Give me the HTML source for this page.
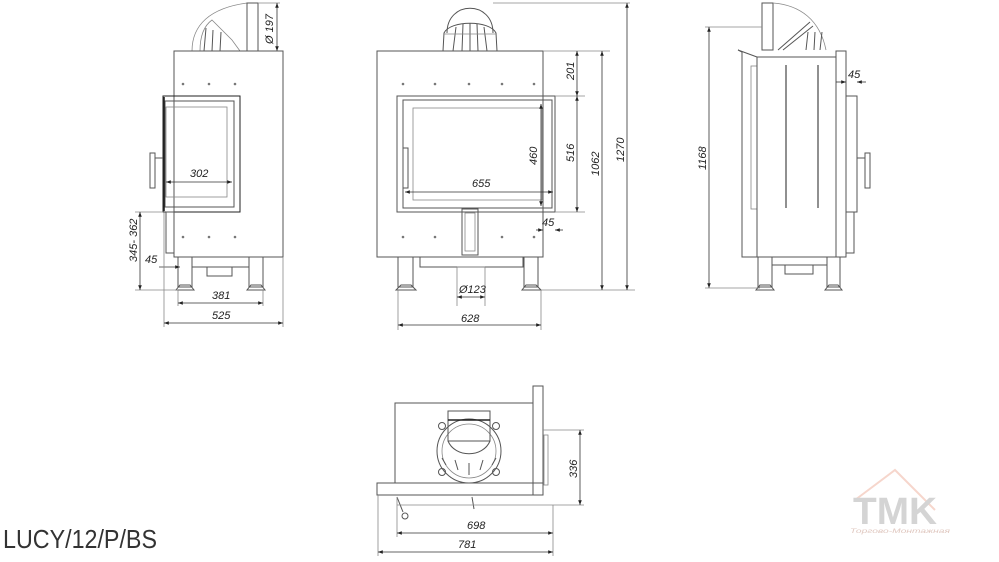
<!DOCTYPE html>
<html><head><meta charset="utf-8"><style>
html,body{margin:0;padding:0;background:#fff;width:999px;height:562px;overflow:hidden}
svg{display:block}
text{font-family:"Liberation Sans",sans-serif;font-style:italic;font-size:11px;fill:#222}
.l{stroke:#555;stroke-width:1;fill:none}
.t{stroke:#888;stroke-width:0.8;fill:none}
.d{stroke:#333;stroke-width:0.8;fill:none}
.k{stroke:#222;stroke-width:1.6;fill:none}
.dot{fill:#777}
</style></head><body>
<svg width="999" height="562" viewBox="0 0 999 562" xmlns="http://www.w3.org/2000/svg">
<defs>
<marker id="a" viewBox="0 0 8 6" refX="8" refY="3" markerWidth="6" markerHeight="5" orient="auto-start-reverse"><path d="M0,0 L8,3 L0,6z" fill="#222"/></marker>
</defs>

<!-- ============ VIEW 1 (left side) ============ -->
<path class="t" d="M192,51 C192,25 210,8 247,3"/>
<path class="t" d="M200,51 C200,35 205,25 212,20 L232,40 L240,51"/>
<path class="l" d="M204,51 L206,28 M212,51 L213,30 M220,51 L221,32"/>
<rect class="l" x="247" y="3" width="11" height="48"/>
<line class="t" x1="258" y1="3" x2="280" y2="3"/>
<line class="d" x1="277" y1="3" x2="277" y2="51" marker-start="url(#a)" marker-end="url(#a)"/>
<text x="0" y="0" transform="translate(273,44) rotate(-90)">Ø 197</text>
<rect class="l" x="174" y="51" width="109" height="206"/>
<rect class="k" x="163" y="96" width="77" height="116" style="stroke-width:1"/>
<rect class="l" x="165" y="101" width="69" height="106"/>
<rect class="t" x="166" y="107" width="61" height="90"/>
<line class="k" x1="164" y1="97" x2="164" y2="211"/>
<rect class="l" x="150" y="153" width="5" height="35"/>
<line class="l" x1="155" y1="158" x2="163" y2="158"/>
<rect class="l" x="166" y="212" width="8" height="41"/>
<g class="dot"><circle cx="183" cy="84" r="1.3"/><circle cx="209" cy="84" r="1.3"/><circle cx="235" cy="84" r="1.3"/><circle cx="183" cy="237" r="1.3"/><circle cx="209" cy="237" r="1.3"/><circle cx="235" cy="237" r="1.3"/></g>
<rect class="l" x="178" y="257" width="14" height="30"/>
<rect class="l" x="249" y="257" width="14" height="30"/>
<line class="l" x1="192" y1="267" x2="249" y2="267"/>
<rect class="l" x="207" y="267" width="25" height="9"/>
<path class="l" d="M176,290 L194,290 L190,285 L180,285z M247,290 L265,290 L261,285 L251,285z"/>
<line class="d" x1="166" y1="182" x2="232" y2="182" marker-start="url(#a)" marker-end="url(#a)"/>
<text x="190" y="177">302</text>
<line class="t" x1="135" y1="212" x2="163" y2="212"/>
<line class="t" x1="135" y1="290" x2="178" y2="290"/>
<line class="d" x1="140" y1="212" x2="140" y2="290" marker-start="url(#a)" marker-end="url(#a)"/>
<text x="0" y="0" transform="translate(137,262) rotate(-90)">345- 362</text>
<line class="d" x1="159" y1="267" x2="180" y2="267" marker-end="url(#a)"/>
<text x="145" y="263">45</text>
<line class="t" x1="178" y1="290" x2="178" y2="306"/><line class="t" x1="263" y1="290" x2="263" y2="306"/>
<line class="d" x1="178" y1="303" x2="263" y2="303" marker-start="url(#a)" marker-end="url(#a)"/>
<text x="212" y="299">381</text>
<line class="t" x1="164" y1="212" x2="164" y2="327"/><line class="t" x1="283" y1="257" x2="283" y2="327"/>
<line class="d" x1="164" y1="323" x2="283" y2="323" marker-start="url(#a)" marker-end="url(#a)"/>
<text x="212" y="319">525</text>

<!-- ============ VIEW 2 (front) ============ -->
<path class="l" d="M447,33 C447,0 493,0 493,33"/>
<path class="l" d="M443,51 L444,33 C450,20 490,20 496,33 L497,51"/>
<path class="l" d="M453,51 L456,27 M462,51 L463,24 M470,51 L470,23 M478,51 L477,24 M487,51 L484,27"/>
<line class="t" x1="444" y1="34" x2="496" y2="34"/>
<line class="t" x1="493" y1="3" x2="630" y2="3"/>
<rect class="l" x="377" y="51" width="166" height="206"/>
<rect class="l" x="397" y="96" width="158" height="116"/>
<rect class="l" x="403" y="100" width="149" height="108"/>
<rect class="t" x="413" y="108" width="129" height="92"/>
<rect class="l" x="403" y="148" width="5" height="40"/>
<rect class="l" x="462" y="209" width="16" height="46"/>
<rect class="t" x="465" y="213" width="10" height="38"/>
<g class="dot"><circle cx="403" cy="84" r="1.3"/><circle cx="435" cy="84" r="1.3"/><circle cx="469" cy="84" r="1.3"/><circle cx="502" cy="84" r="1.3"/><circle cx="534" cy="84" r="1.3"/><circle cx="403" cy="237" r="1.3"/><circle cx="435" cy="237" r="1.3"/><circle cx="502" cy="237" r="1.3"/><circle cx="534" cy="237" r="1.3"/></g>
<rect class="l" x="398" y="257" width="15" height="30"/>
<rect class="l" x="524" y="257" width="14" height="30"/>
<rect class="l" x="420" y="257" width="103" height="10"/>
<path class="l" d="M396,290 L416,290 L411,285 L401,285z M522,290 L541,290 L536,285 L526,285z"/>
<line class="t" x1="457" y1="267" x2="457" y2="306"/><line class="t" x1="485" y1="267" x2="485" y2="306"/>
<line class="t" x1="457" y1="267" x2="485" y2="267"/>
<line class="d" x1="457" y1="297" x2="485" y2="297" marker-start="url(#a)" marker-end="url(#a)"/>
<text x="459" y="293">Ø123</text>
<line class="t" x1="543" y1="51" x2="610" y2="51"/>
<line class="t" x1="555" y1="96" x2="585" y2="96"/>
<line class="t" x1="555" y1="212" x2="585" y2="212"/>
<line class="t" x1="541" y1="290" x2="635" y2="290"/>
<line class="d" x1="577" y1="51" x2="577" y2="96" marker-start="url(#a)" marker-end="url(#a)"/>
<line class="d" x1="577" y1="96" x2="577" y2="212" marker-start="url(#a)" marker-end="url(#a)"/>
<text x="0" y="0" transform="translate(574,80) rotate(-90)">201</text>
<text x="0" y="0" transform="translate(574,162) rotate(-90)">516</text>
<line class="d" x1="602" y1="51" x2="602" y2="290" marker-start="url(#a)" marker-end="url(#a)"/>
<text x="0" y="0" transform="translate(599,176) rotate(-90)">1062</text>
<line class="d" x1="627" y1="3" x2="627" y2="290" marker-start="url(#a)" marker-end="url(#a)"/>
<text x="0" y="0" transform="translate(624,162) rotate(-90)">1270</text>
<line class="d" x1="541" y1="104" x2="541" y2="206" marker-start="url(#a)" marker-end="url(#a)"/>
<text x="0" y="0" transform="translate(537,165) rotate(-90)">460</text>
<line class="d" x1="405" y1="192" x2="553" y2="192" marker-start="url(#a)" marker-end="url(#a)"/>
<text x="472" y="187">655</text>
<line class="d" x1="536" y1="230" x2="543" y2="230" marker-end="url(#a)"/>
<line class="d" x1="563" y1="230" x2="555" y2="230" marker-end="url(#a)"/>
<text x="542" y="226">45</text>
<line class="t" x1="398" y1="290" x2="398" y2="330"/><line class="t" x1="541" y1="290" x2="541" y2="330"/>
<line class="d" x1="398" y1="325" x2="541" y2="325" marker-start="url(#a)" marker-end="url(#a)"/>
<text x="461" y="322">628</text>

<!-- ============ VIEW 3 (right side) ============ -->
<rect class="l" x="762" y="3" width="11" height="47"/>
<path class="t" d="M773,3 C800,5 820,20 826,50"/>
<path class="l" d="M778,50 L810,22 M783,50 L813,26 M806,50 L808,32 M814,50 L815,32 M820,50 L822,32"/>
<line class="t" x1="705" y1="27" x2="762" y2="27"/>
<line class="d" x1="709" y1="27" x2="709" y2="288" marker-start="url(#a)" marker-end="url(#a)"/>
<text x="0" y="0" transform="translate(706,170) rotate(-90)">1168</text>
<line class="t" x1="705" y1="288" x2="760" y2="288"/>
<path class="l" d="M738,50 L757,57 L757,257 L742,257 L742,52z"/>
<rect class="t" x="751" y="66" width="6" height="143"/>
<rect class="l" x="757" y="57" width="79" height="200"/>
<line class="k" x1="786" y1="65" x2="786" y2="208" style="stroke-width:1"/>
<line class="k" x1="818" y1="65" x2="818" y2="208" style="stroke-width:1"/>
<rect class="l" x="836" y="51" width="10" height="206"/>
<rect class="l" x="846" y="96" width="11" height="116"/>
<rect class="l" x="846" y="212" width="8" height="41"/>
<rect class="l" x="865" y="153" width="5" height="35"/>
<line class="l" x1="857" y1="158" x2="865" y2="158"/>
<rect class="l" x="758" y="257" width="14" height="30"/>
<rect class="l" x="827" y="257" width="13" height="30"/>
<line class="l" x1="772" y1="265" x2="827" y2="265"/>
<rect class="l" x="785" y="265" width="28" height="9"/>
<path class="l" d="M756,290 L774,290 L770,285 L760,285z M825,290 L842,290 L838,285 L829,285z"/>
<line class="d" x1="836" y1="82" x2="846" y2="82" marker-end="url(#a)"/>
<line class="d" x1="866" y1="82" x2="857" y2="82" marker-end="url(#a)"/>
<text x="848" y="78">45</text>

<!-- ============ VIEW 4 (top) ============ -->
<rect class="l" x="395" y="403" width="138" height="80"/>
<rect class="l" x="533" y="386" width="10" height="109"/>
<rect class="l" x="377" y="483" width="166" height="12"/>
<circle class="l" cx="469" cy="451" r="32"/>
<circle class="t" cx="469" cy="451" r="27"/>
<rect class="l" x="448" y="411" width="42" height="30"/>
<line class="k" x1="448" y1="420" x2="490" y2="420"/>
<path class="l" d="M448,441 C455,458 483,458 490,441"/>
<path class="l" d="M458,470 L455,460 M469,475 L469,463 M480,470 L483,460 M446,465 L442,458 M492,465 L496,458"/>
<circle class="l" cx="442" cy="426" r="3.5"/><circle class="l" cx="496" cy="426" r="3.5"/>
<circle class="l" cx="442" cy="472" r="3.5"/><circle class="l" cx="496" cy="472" r="3.5"/>
<rect class="t" x="544" y="435" width="4" height="50"/>
<path class="l" d="M397,497 L403,512 M472,497 L474,509"/>
<circle class="l" cx="405" cy="516" r="3"/>
<line class="t" x1="543" y1="430" x2="584" y2="430"/>
<line class="t" x1="397" y1="505" x2="584" y2="505"/>
<line class="d" x1="580" y1="430" x2="580" y2="505" marker-start="url(#a)" marker-end="url(#a)"/>
<text x="0" y="0" transform="translate(577,478) rotate(-90)">336</text>
<line class="t" x1="397" y1="497" x2="397" y2="537"/><line class="t" x1="553" y1="505" x2="553" y2="556"/>
<line class="t" x1="378" y1="495" x2="378" y2="556"/>
<line class="d" x1="397" y1="533" x2="553" y2="533" marker-start="url(#a)" marker-end="url(#a)"/>
<text x="467" y="529">698</text>
<line class="d" x1="378" y1="552" x2="553" y2="552" marker-start="url(#a)" marker-end="url(#a)"/>
<text x="458" y="548">781</text>

<!-- title -->
<text x="3" y="548" style="font-style:normal;font-size:26px;fill:#333" textLength="154" lengthAdjust="spacingAndGlyphs">LUCY/12/P/BS</text>

<!-- logo -->
<path d="M855,500 L895,470 L935,510" stroke="#f6d6cc" stroke-width="2" fill="none"/>
<text x="853" y="524" style="font-style:normal;font-weight:bold;font-size:38px;fill:#d4d4d4" textLength="84" lengthAdjust="spacingAndGlyphs">TMK</text>
<text x="850" y="533" style="font-size:6px;fill:#e0c8c0" textLength="100" lengthAdjust="spacingAndGlyphs">Торгово-Монтажная</text>
</svg>
</body></html>
